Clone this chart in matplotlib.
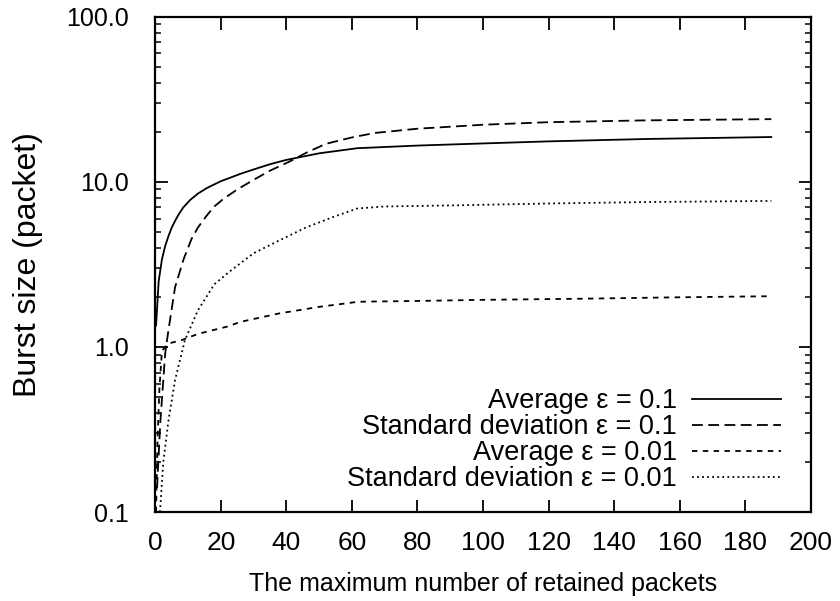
import matplotlib
matplotlib.use("Agg")
import matplotlib.pyplot as plt
from matplotlib.ticker import FixedLocator, FixedFormatter, LogLocator, NullFormatter

plt.rcParams['font.family'] = ['Liberation Sans', 'DejaVu Sans']

# Average, epsilon = 0.1 (solid)
x_avg_01 = [0.2, 1, 2, 3, 4, 5, 6, 7, 8.5, 10.7, 13, 15.8, 20, 26, 30, 35, 40, 50, 61.6, 80, 100, 120, 150, 188]
y_avg_01 = [1.35, 2.5, 3.4, 4.1, 4.7, 5.3, 5.8, 6.3, 7.0, 7.8, 8.5, 9.2, 10.1, 11.2, 11.9, 12.8, 13.6, 14.9, 16.0, 16.6, 17.1, 17.6, 18.2, 18.7]

# Standard deviation, epsilon = 0.1 (long dashes)
x_std_01 = [0.5, 1.5, 3, 4, 6, 8.6, 11, 13, 15.8, 18, 20.8, 25, 30, 35, 41, 46, 52, 60, 67, 80, 100, 120, 150, 188]
y_std_01 = [0.14, 0.35, 0.92, 1.27, 2.3, 3.4, 4.5, 5.3, 6.3, 7.1, 7.9, 9.0, 10.3, 11.7, 13.3, 15.0, 17.0, 18.6, 19.8, 21.0, 22.2, 23.0, 23.6, 24.0]

# Average, epsilon = 0.01 (short dashes)
x_avg_001 = [0.2, 0.6, 1.2, 2, 4, 8, 13, 22, 26, 38, 50, 62, 80, 100, 130, 160, 188]
y_avg_001 = [0.1, 0.25, 0.55, 0.95, 1.05, 1.1, 1.2, 1.33, 1.42, 1.6, 1.75, 1.88, 1.9, 1.93, 1.96, 2.0, 2.03]

# Standard deviation, epsilon = 0.01 (dotted)
x_std_001 = [1.4, 2.4, 4, 6, 9, 13, 18, 23, 30, 37.6, 46, 54, 61.6, 70, 90, 120, 150, 188]
y_std_001 = [0.1, 0.2, 0.36, 0.63, 1.1, 1.67, 2.4, 2.9, 3.7, 4.4, 5.3, 6.1, 6.9, 7.1, 7.2, 7.4, 7.55, 7.67]

labels = ["Average \u03b5 = 0.1", "Standard deviation \u03b5 = 0.1",
          "Average \u03b5 = 0.01", "Standard deviation \u03b5 = 0.01"]

x_ticks = [0, 20, 40, 60, 80, 100, 120, 140, 160, 180, 200]
y_ticks = [0.1, 1.0, 10.0, 100.0]
y_tick_labels = ["0.1", "1.0", "10.0", "100.0"]

fig = plt.figure(figsize=(8.4, 6.01), dpi=100)
ax = fig.add_axes([0.185, 0.148, 0.78, 0.824])

lw = 1.3
ax.plot(x_avg_01, y_avg_01, color='black', lw=lw, linestyle='-', label=labels[0])
ax.plot(x_std_01, y_std_01, color='black', lw=lw, linestyle=(0, (6, 3)), label=labels[1])
ax.plot(x_avg_001, y_avg_001, color='black', lw=lw, linestyle=(0, (3, 3)), label=labels[2])
ax.plot(x_std_001, y_std_001, color='black', lw=lw, linestyle=(0, (1, 1.8)), label=labels[3])

ax.set_yscale('log')
ax.set_xlim(0, 200)
ax.set_ylim(0.1, 100)

ax.xaxis.set_major_locator(FixedLocator(x_ticks))
ax.yaxis.set_major_locator(FixedLocator(y_ticks))
ax.yaxis.set_major_formatter(FixedFormatter(y_tick_labels))
ax.yaxis.set_minor_locator(LogLocator(base=10, subs=range(2, 10)))
ax.yaxis.set_minor_formatter(NullFormatter())

ax.tick_params(axis='both', which='major', direction='in', length=9, width=1.3,
               top=True, right=True)
ax.tick_params(axis='x', which='major', pad=14, labelsize=19)
ax.tick_params(axis='y', which='major', pad=19, labelsize=18)
ax.tick_params(axis='y', which='minor', direction='in', length=4.5, width=1.1, right=True, left=True)
for s in ax.spines.values():
    s.set_linewidth(1.6)

ax.set_xlabel("The maximum number of retained packets", fontsize=18, labelpad=12)
ax.set_ylabel("Burst size (packet)", fontsize=23, labelpad=17)

leg = ax.legend(loc='lower right', bbox_to_anchor=(0.955, 0.04), frameon=False,
                markerfirst=False, fontsize=19.5, handlelength=3.3, handletextpad=0.55,
                labelspacing=0.0, borderpad=0, borderaxespad=0)

fig.savefig("out.png", dpi=100)
